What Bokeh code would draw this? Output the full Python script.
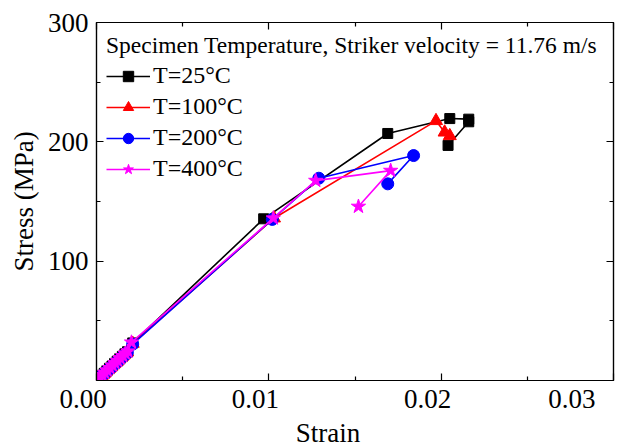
from bokeh.plotting import figure
from bokeh.models import (Range1d, FixedTicker, CustomJSTickFormatter, LinearAxis,
                          Legend, LegendItem)
from bokeh.embed import file_html
from bokeh.resources import INLINE

# ---- data ----
strain_25 = [0.00005, 0.0002, 0.00032, 0.00045, 0.0006, 0.00075, 0.0009, 0.00105, 0.0012,
             0.00135, 0.0015, 0.00165, 0.0018, 0.0021, 0.0097, 0.0169, 0.0205, 0.0216, 0.0216, 0.0204]
stress_25 = [0.5, 2.6, 4.3, 6.0, 8.1, 10.2, 12.1, 14.3, 16.2,
             18.3, 20.2, 22.4, 24.1, 31.5, 135.5, 207.0, 219.5, 219.0, 216.8, 197.0]

strain_100 = [0.00003, 0.00018, 0.0003, 0.00044, 0.00058, 0.00073, 0.00088, 0.00103, 0.00118,
              0.00133, 0.00148, 0.00163, 0.00178, 0.0021, 0.0103, 0.0197, 0.0202, 0.0205]
stress_100 = [0.3, 2.3, 4.0, 5.8, 7.8, 9.9, 11.9, 14.0, 15.9,
              18.0, 20.0, 22.0, 23.8, 31.0, 136.0, 217.6, 208.0, 205.0]

strain_200 = [0.00004, 0.00019, 0.00031, 0.00046, 0.00061, 0.00076, 0.00091, 0.00106, 0.00121,
              0.00136, 0.00151, 0.00166, 0.00179, 0.0021, 0.0102, 0.0129, 0.0184, 0.0169]
stress_200 = [0.2, 2.2, 3.9, 5.9, 7.9, 9.9, 11.8, 13.9, 15.8,
              17.9, 19.8, 21.8, 23.4, 30.5, 135.0, 169.5, 188.5, 164.8]

strain_400 = [0.00006, 0.0002, 0.00033, 0.00047, 0.00062, 0.00077, 0.00092, 0.00107, 0.00122,
              0.00137, 0.00152, 0.00167, 0.00182, 0.00203, 0.01026, 0.01272, 0.01707, 0.0152]
stress_400 = [0.8, 2.8, 4.6, 6.5, 8.5, 10.6, 12.6, 14.7, 16.6,
              18.7, 20.7, 22.7, 24.5, 32.0, 136.0, 167.5, 175.9, 145.8]

labels = ["T=25\u00b0C", "T=100\u00b0C", "T=200\u00b0C", "T=400\u00b0C"]
x_ticks = [0.0, 0.01, 0.02, 0.03]
x_minor = [0.005, 0.015, 0.025]
y_ticks = [100, 200, 300]
y_minor = [50, 150, 250]

FONT = "'Liberation Serif', 'Times New Roman', Times, serif"
NB = "\u00a0"

p = figure(width=622, height=446, output_backend="svg", toolbar_location=None,
           x_range=Range1d(0, 0.03), y_range=Range1d(0, 300),
           min_border_left=96, min_border_right=9, min_border_top=22, min_border_bottom=66)
p.frame_width = 517
p.frame_height = 358
p.grid.visible = False
p.outline_line_color = "black"
p.outline_line_width = 1.2
p.background_fill_color = "white"
p.border_fill_color = "white"

def style_axis(ax, ticks, minor, show_labels=True):
    ax.ticker = FixedTicker(ticks=ticks, minor_ticks=minor)
    ax.major_tick_in = 7
    ax.major_tick_out = 0
    ax.minor_tick_in = 4
    ax.minor_tick_out = 0
    ax.axis_line_color = "black"
    ax.axis_line_width = 1.2
    ax.major_tick_line_width = 1.2
    ax.minor_tick_line_width = 1.2
    ax.major_label_text_font = FONT
    ax.major_label_text_font_size = "27px"
    ax.major_label_text_color = "black"
    ax.axis_label_text_font = FONT
    ax.axis_label_text_font_size = "27px"
    ax.axis_label_text_font_style = "normal"
    ax.axis_label_text_color = "black"
    if not show_labels:
        ax.major_label_text_font_size = "0px"
        ax.major_label_text_alpha = 0

style_axis(p.xaxis[0], x_ticks, x_minor)
p.xaxis[0].formatter = CustomJSTickFormatter(
    code="return tick.toFixed(2) + '\\u00a0\\u00a0\\u00a0\\u00a0';")
p.xaxis[0].axis_label = "Strain" + NB * 8
p.xaxis[0].major_label_standoff = 3
p.xaxis[0].axis_label_standoff = 1

style_axis(p.yaxis[0], y_ticks, y_minor)
p.yaxis[0].axis_label = "Stress (MPa)"
p.yaxis[0].major_label_standoff = 8
p.yaxis[0].axis_label_standoff = 6

top = LinearAxis()
style_axis(top, x_ticks, x_minor, show_labels=False)
top.major_label_standoff = 0
p.add_layout(top, "above")
right = LinearAxis()
style_axis(right, y_ticks, y_minor, show_labels=False)
right.major_label_standoff = 0
p.add_layout(right, "right")

series = [
    (strain_25, stress_25, "black", "square", 10),
    (strain_100, stress_100, "#FF0000", "triangle", 13),
    (strain_200, stress_200, "#0000FF", "circle", 12),
    (strain_400, stress_400, "#FF00FF", "star", 15),
]
items = []
for (xs, ys, col, mk, sz), lab in zip(series, labels):
    lr = p.line(xs, ys, line_color=col, line_width=1.6)
    sr = p.scatter(xs, ys, marker=mk, size=sz, fill_color=col, line_color=col)
    items.append(LegendItem(label=lab, renderers=[lr, sr]))

legend = Legend(items=items, location="top_left")
legend.title = "Specimen Temperature, Striker velocity = 11.76 m/s"
legend.title_text_font = FONT
legend.title_text_font_size = "23.5px"
legend.title_text_font_style = "normal"
legend.title_text_color = "black"
legend.title_standoff = 3
legend.label_text_font = FONT
legend.label_text_font_size = "24px"
legend.label_text_color = "black"
legend.glyph_width = 44
legend.glyph_height = 26
legend.label_height = 26
legend.spacing = 4
legend.label_standoff = 3
legend.border_line_alpha = 0
legend.background_fill_alpha = 0
legend.margin = 2
legend.padding = 8
p.add_layout(legend)

open("out.html", "w").write(file_html(p, INLINE))
